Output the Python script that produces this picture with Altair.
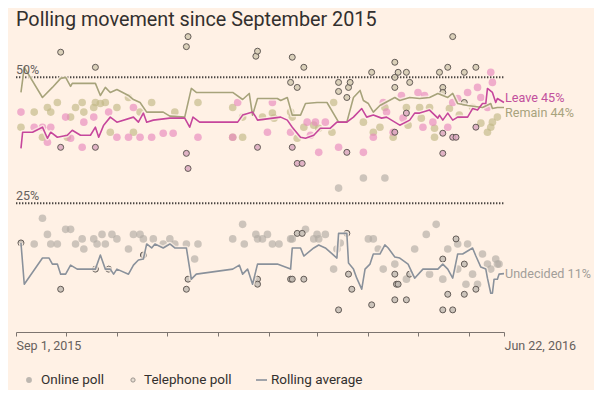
import altair as alt
import pandas as pd

# ---------------- data (day = days since 1 Sep 2015, values in %) ----------------
remain_avg_day = [3, 5, 16, 22, 27, 30, 33, 34, 48, 51, 54, 57, 61, 68, 71, 75, 79, 89, 93, 102, 106, 109,
                  131, 137, 141, 143, 146, 158, 160, 164, 167, 172, 175, 182, 188, 195, 200, 204, 208, 210,
                  213, 216, 220, 229, 232, 238, 244, 250, 255, 261, 264, 267, 273, 282, 287, 288, 291, 295]
remain_avg_val = [47.0, 52.0, 46.0, 48.0, 49.8, 50.0, 48.2, 48.8, 48.8, 46.4, 48.0, 47.0, 47.6, 46.4, 45.6,
                  45.0, 43.1, 43.1, 42.3, 42.1, 47.8, 47.0, 47.0, 45.6, 46.8, 42.5, 45.8, 45.8, 45.4, 46.0,
                  42.5, 42.5, 44.8, 45.0, 45.0, 41.1, 41.1, 46.0, 47.4, 45.4, 44.8, 43.1, 44.4, 46.0, 45.4,
                  46.0, 45.8, 46.0, 46.8, 46.0, 46.8, 44.8, 44.4, 44.0, 44.8, 43.8, 44.0, 44.0]

leave_avg_day = [3, 4, 10, 16, 19, 21, 25, 31, 34, 39, 45, 48, 50, 53, 57, 61, 71, 74, 77, 79, 83, 93, 102,
                 105, 107, 111, 134, 137, 143, 145, 146, 160, 164, 167, 172, 175, 180, 184, 190, 194, 200,
                 204, 209, 212, 216, 221, 224, 230, 232, 238, 241, 244, 250, 255, 256, 258, 261, 264, 267,
                 273, 276, 279, 282, 284, 285, 288, 290, 291, 295]
leave_avg_val = [35.9, 39.1, 39.1, 40.1, 37.9, 39.1, 38.1, 38.5, 39.5, 38.5, 38.5, 40.1, 38.1, 40.5, 42.1,
                 41.1, 42.1, 41.1, 42.9, 41.1, 41.5, 41.9, 41.9, 40.1, 42.1, 41.1, 41.1, 42.5, 43.1, 42.1,
                 41.5, 42.1, 41.5, 40.1, 38.1, 37.9, 38.5, 39.9, 39.9, 41.1, 41.1, 42.1, 43.8, 42.1, 42.5,
                 41.9, 42.1, 40.9, 40.5, 41.5, 42.9, 42.9, 43.5, 41.9, 42.5, 41.5, 42.9, 41.5, 42.1, 42.1,
                 43.8, 43.5, 44.8, 44.8, 47.8, 47.0, 45.0, 45.8, 45.0]

undec_avg_day = [3, 5, 16, 20, 22, 25, 27, 30, 33, 37, 48, 51, 54, 57, 59, 61, 68, 71, 74, 77, 79, 82, 84,
                 89, 93, 96, 103, 106, 109, 131, 135, 137, 140, 143, 146, 158, 166, 167, 172, 174, 180, 183,
                 187, 194, 195, 200, 201, 204, 206, 209, 211, 214, 216, 220, 223, 225, 229, 232, 237, 241,
                 246, 255, 258, 261, 264, 267, 270, 276, 278, 281, 284, 285, 287, 288, 289, 291, 292, 295]
undec_avg_val = [17.1, 8.9, 14.1, 14.1, 12.9, 12.9, 10.9, 10.9, 12.7, 11.9, 11.9, 14.7, 11.9, 11.9, 10.9,
                 11.9, 10.9, 12.7, 13.7, 13.9, 16.9, 16.1, 16.9, 16.1, 16.9, 16.1, 16.1, 9.9, 10.9, 11.9,
                 12.7, 10.9, 11.9, 8.9, 12.9, 12.9, 11.9, 16.1, 16.1, 14.5, 16.1, 16.7, 16.1, 14.1, 19.0,
                 19.0, 13.1, 11.9, 10.1, 7.9, 11.9, 12.9, 14.9, 14.9, 16.7, 16.1, 14.3, 14.1, 12.9, 10.1,
                 11.9, 11.9, 12.9, 11.9, 10.1, 14.9, 14.9, 16.1, 14.5, 12.3, 11.9, 10.1, 7.1, 7.1, 9.9,
                 9.9, 10.9, 11.0]

# online polls
remain_online_day = [3, 11, 16, 19, 21, 25, 31, 33, 36, 40, 41, 47, 48, 51, 54, 57, 61, 68, 71, 75, 82, 96,
                     110, 131, 131, 137, 137, 149, 155, 156, 166, 167, 170, 174, 180, 183, 191, 192, 210,
                     216, 220, 223, 228, 236, 237, 244, 245, 250, 253, 253, 262, 268, 276, 281, 285, 287,
                     288, 291]
remain_online_val = [40.1, 43.1, 38.1, 44.0, 43.1, 45.0, 38.1, 42.1, 44.0, 45.0, 43.1, 44.0, 45.0, 44.8,
                     45.0, 39.1, 44.0, 46.0, 39.1, 43.1, 45.0, 43.1, 45.0, 44.0, 38.1, 42.1, 38.1, 42.1,
                     42.9, 41.9, 43.1, 42.1, 37.9, 40.1, 40.5, 39.9, 39.1, 45.0, 41.1, 39.1, 40.1, 44.0,
                     38.1, 44.0, 40.5, 44.0, 41.9, 44.0, 39.9, 38.1, 43.8, 42.5, 44.0, 40.9, 39.1, 40.1,
                     41.1, 42.1]

leave_online_day = [3, 11, 16, 19, 21, 30, 33, 40, 41, 47, 56, 61, 68, 71, 75, 82, 89, 95, 110, 131, 134,
                    152, 155, 166, 176, 178, 181, 183, 187, 195, 210, 216, 222, 224, 228, 233, 234, 243,
                    246, 247, 252, 261, 264, 267, 273, 279, 281, 285, 287, 288]
leave_online_val = [43.1, 40.1, 40.1, 37.1, 40.1, 42.1, 37.9, 36.1, 41.1, 42.1, 43.1, 38.1, 38.1, 44.0,
                    38.1, 38.1, 38.9, 38.9, 38.1, 38.1, 45.0, 39.1, 45.0, 39.1, 41.1, 38.5, 41.1, 35.1,
                    41.1, 36.1, 35.1, 38.1, 45.0, 43.1, 39.1, 46.4, 41.9, 47.0, 40.1, 46.4, 41.1, 40.1,
                    45.0, 45.8, 47.0, 48.0, 46.0, 44.0, 51.0, 49.0]

undec_online_day = [11, 16, 19, 21, 25, 30, 33, 36, 40, 41, 47, 49, 52, 54, 58, 61, 68, 71, 75, 77, 83, 89,
                    93, 96, 103, 108, 110, 131, 137, 138, 145, 146, 149, 152, 155, 159, 166, 167, 175, 180,
                    182, 183, 187, 192, 194, 195, 196, 210, 213, 216, 219, 222, 223, 229, 236, 241, 248,
                    250, 254, 258, 261, 267, 267, 272, 273, 276, 279, 282, 285, 287, 290, 291, 292]
undec_online_val = [16.9, 22.0, 18.8, 16.9, 16.9, 19.8, 19.8, 16.9, 17.9, 15.9, 17.9, 16.9, 18.8, 16.9,
                    18.8, 17.9, 15.9, 18.8, 18.8, 17.9, 17.9, 16.9, 17.9, 16.9, 16.9, 13.9, 16.9, 17.9,
                    20.8, 16.9, 18.8, 17.9, 17.9, 18.8, 16.9, 16.9, 17.9, 17.9, 19.8, 17.9, 18.8, 17.9,
                    18.8, 11.9, 15.9, 28.0, 17.1, 30.0, 17.9, 17.9, 15.9, 11.9, 30.0, 12.9, 9.9, 15.9,
                    18.8, 10.9, 20.8, 9.9, 15.9, 16.9, 11.9, 8.9, 16.9, 10.9, 8.9, 14.9, 12.9, 11.9,
                    13.9, 12.9, 12.9]

# telephone polls
remain_phone_day = [27, 48, 103, 104, 145, 146, 166, 167, 170, 174, 195, 195, 200, 201, 202, 215, 229,
                    229, 229, 231, 236, 238, 256, 258, 258, 261, 264, 271, 271, 278]
remain_phone_val = [55.0, 52.0, 56.1, 58.1, 54.2, 55.2, 49.0, 54.0, 48.0, 52.0, 49.0, 47.2, 46.0, 48.0,
                    49.0, 51.0, 53.0, 50.0, 48.0, 51.0, 51.0, 49.0, 51.0, 48.0, 47.0, 52.0, 58.1, 51.0,
                    45.0, 52.0]

leave_phone_day = [27, 48, 103, 104, 146, 167, 170, 173, 200, 229, 236, 258, 258, 264, 266, 278]
leave_phone_val = [36.1, 36.1, 34.9, 31.9, 36.1, 36.1, 32.9, 32.9, 35.1, 39.1, 42.9, 38.9, 34.9, 38.1,
                   38.1, 40.1]

undec_phone_day = [3, 27, 48, 56, 77, 103, 104, 146, 146, 166, 167, 170, 173, 174, 195, 200, 201, 203,
                   215, 229, 229, 230, 231, 236, 238, 258, 258, 261, 264, 266, 271, 271, 278]
undec_phone_val = [17.1, 7.9, 11.9, 11.9, 14.7, 7.9, 9.9, 9.9, 8.9, 9.9, 9.9, 19.0, 19.0, 9.9, 3.8, 19.0,
                   10.9, 7.9, 4.8, 10.9, 5.8, 8.9, 8.9, 5.8, 10.9, 13.9, 3.8, 6.9, 3.8, 17.9, 12.9, 6.9,
                   7.9]

series_names = ["Remain", "Leave", "Undecided"]
final_values = [44, 45, 11]
guide_values = [50, 25]
guide_labels = ["50%", "25%"]
tick_days = [0, 30, 61, 91, 122, 153, 182, 213, 243, 274, 295]
title_text = "Polling movement since September 2015"
legend_labels = ["Online poll", "Telephone poll", "Rolling average"]

# ---------------- tables ----------------
def table(days, vals, series, mode=None):
    d = pd.DataFrame({"day": days, "value": vals})
    d["series"] = series
    if mode:
        d["mode"] = mode
    return d

avg_df = pd.concat([table(remain_avg_day, remain_avg_val, "Remain"),
                    table(leave_avg_day, leave_avg_val, "Leave"),
                    table(undec_avg_day, undec_avg_val, "Undecided")])
online_df = pd.concat([table(remain_online_day, remain_online_val, "Remain"),
                       table(leave_online_day, leave_online_val, "Leave"),
                       table(undec_online_day, undec_online_val, "Undecided")])
phone_df = pd.concat([table(remain_phone_day, remain_phone_val, "Remain"),
                      table(leave_phone_day, leave_phone_val, "Leave"),
                      table(undec_phone_day, undec_phone_val, "Undecided")])
guide_df = pd.DataFrame({"value": guide_values, "label": guide_labels})
end_df = pd.DataFrame({"series": series_names, "value": final_values, "day": [295] * 3})
end_df["label"] = end_df["series"] + " " + end_df["value"].astype(str) + "%"

# ---------------- styling ----------------
BG = "#fff1e5"
FONT = "Roboto"
W, H = 488, 307

label_expr = "datum.value == 0 ? 'Sep 1, 2015' : (datum.value == 295 ? 'Jun 22, 2016' : '')"
X = alt.X("day:Q", scale=alt.Scale(domain=[0, 295], nice=False, zero=False),
          axis=alt.Axis(values=tick_days, labelExpr=label_expr, title=None, grid=False,
                        offset=3, tickSize=4, domainColor="#7d7570", tickColor="#7d7570",
                        labelColor="#66605c", labelFont=FONT, labelFontSize=12.5,
                        labelAlign="left", labelPadding=3, labelOverlap=False, labelFlush=False))
Y = alt.Y("value:Q", scale=alt.Scale(domain=[0, 61], nice=False), axis=None)

guides = alt.Chart(guide_df).mark_rule(color="#4a4541", strokeWidth=2, strokeDash=[1.4, 1.6]).encode(
    y=Y, x=alt.value(0), x2=alt.value(W))
guide_text = alt.Chart(guide_df).mark_text(align="left", baseline="alphabetic", dy=-3, font=FONT,
                                           fontSize=12.5, color="#66605c").encode(
    y=Y, x=alt.value(0), text="label:N")

online = alt.Chart(online_df).mark_circle(size=58, opacity=0.65).encode(
    x=X, y=Y,
    color=alt.Color("series:N", legend=None,
                    scale=alt.Scale(domain=series_names, range=["#c2b886", "#e889bd", "#b2aca5"])))

phone = alt.Chart(phone_df).mark_circle(size=36, opacity=1, fillOpacity=0.85, stroke="#635b56",
                                        strokeWidth=1).encode(
    x=X, y=Y,
    fill=alt.Fill("series:N", legend=None,
                  scale=alt.Scale(domain=series_names, range=["#d3cab2", "#dba8c0", "#c3bcb4"])))

halo = alt.Chart(avg_df).mark_line(stroke=BG, strokeWidth=4.5, opacity=0.75, strokeJoin="round").encode(
    x=X, y=Y, detail="series:N")
lines = alt.Chart(avg_df).mark_line(strokeWidth=1.6, strokeJoin="round").encode(
    x=X, y=Y,
    stroke=alt.Stroke("series:N", legend=None,
                      scale=alt.Scale(domain=series_names, range=["#a7a37b", "#c6469c", "#8a919b"])))

end_colors = {"Remain": "#a8a37d", "Leave": "#c2509d", "Undecided": "#a29e99"}
end_dy = {"Remain": 5, "Leave": -5, "Undecided": 0}
end_layers = [
    alt.Chart(end_df).transform_filter(alt.datum.series == s).mark_text(
        align="left", baseline="middle", dx=1, dy=end_dy[s], font=FONT, fontSize=12.6,
        color=end_colors[s]).encode(x=X, y=Y, text="label:N")
    for s in series_names
]

one = pd.DataFrame({"t": [title_text]})
title = alt.Chart(one).mark_text(align="left", baseline="alphabetic", font=FONT, fontSize=19.8,
                                 color="#33302e").encode(x=alt.value(0), y=alt.value(4), text="t:N")

leg_df = pd.DataFrame({"t": legend_labels})
LY = 358
leg_online = alt.Chart(one).mark_circle(size=34, color="#bdb7b0", opacity=1).encode(
    x=alt.value(13), y=alt.value(LY))
leg_phone = alt.Chart(one).mark_circle(size=18, fill="#e6ddd2", fillOpacity=1, stroke="#9c958f",
                                       strokeWidth=1).encode(x=alt.value(117), y=alt.value(LY))
leg_line = alt.Chart(one).mark_rule(color="#8a919b", strokeWidth=1.6).encode(
    x=alt.value(240), x2=alt.value(251), y=alt.value(LY))
leg_texts = [
    alt.Chart(leg_df).transform_filter(alt.datum.t == lab).mark_text(
        align="left", baseline="middle", font=FONT, fontSize=13.5, color="#33302e").encode(
        x=alt.value(xp), y=alt.value(LY), text="t:N")
    for lab, xp in zip(legend_labels, [25, 128, 255])
]

chart = alt.layer(guides, online, phone, halo, lines, guide_text, *end_layers, title,
                  leg_online, leg_phone, leg_line, *leg_texts).resolve_scale(
    color="independent", fill="independent", stroke="independent"
).properties(
    width=W, height=H, background=BG,
    padding={"left": 8, "top": 14, "right": 90, "bottom": 61},
    autosize=alt.AutoSizeParams(type="none"),
).configure_view(stroke=None)

chart.save("out.html", embed_options={"renderer": "svg", "actions": False})
